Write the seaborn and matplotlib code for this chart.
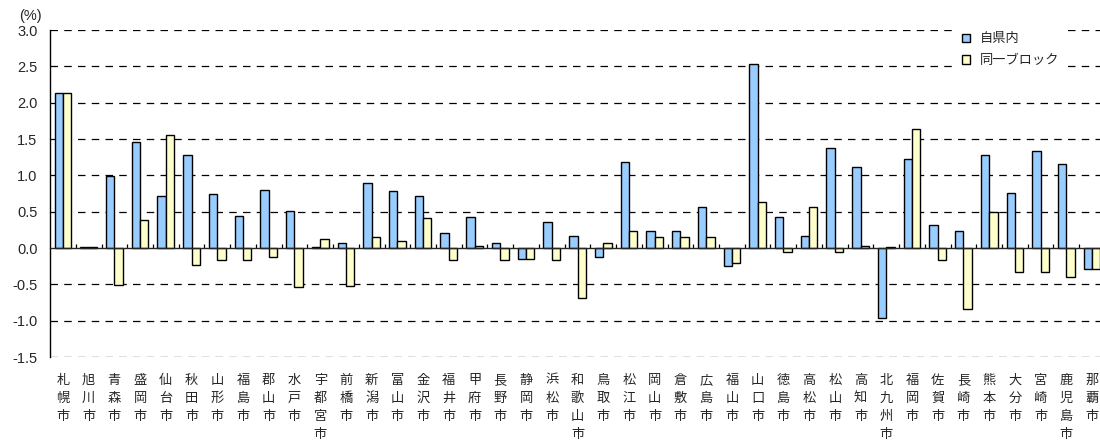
import matplotlib
matplotlib.use("Agg")
import matplotlib.pyplot as plt
import numpy as np
import pandas as pd
import seaborn as sns
from matplotlib.ticker import FixedLocator

# 都市名(縦書き表示用)
cities = ["札幌市", "旭川市", "青森市", "盛岡市", "仙台市", "秋田市", "山形市", "福島市",
          "郡山市", "水戸市", "宇都宮市", "前橋市", "新潟市", "富山市", "金沢市", "福井市",
          "甲府市", "長野市", "静岡市", "浜松市", "和歌山市", "鳥取市", "松江市", "岡山市",
          "倉敷市", "広島市", "福山市", "山口市", "徳島市", "高松市", "松山市", "高知市",
          "北九州市", "福岡市", "佐賀市", "長崎市", "熊本市", "大分市", "宮崎市", "鹿児島市",
          "那覇市"]

# 自県内 (%)
own_pref = [2.13, 0.02, 0.99, 1.46, 0.72, 1.28, 0.74, 0.44, 0.80, 0.51, 0.02, 0.07,
            0.89, 0.79, 0.72, 0.21, 0.43, 0.07, -0.15, 0.36, 0.17, -0.12, 1.18, 0.24,
            0.24, 0.56, -0.25, 2.53, 0.43, 0.17, 1.37, 1.12, -0.97, 1.22, 0.32, 0.24,
            1.28, 0.76, 1.34, 1.16, -0.29]

# 同一ブロック (%)
same_block = [2.13, 0.01, -0.51, 0.38, 1.56, -0.23, -0.16, -0.16, -0.12, -0.54, 0.13, -0.52,
              0.15, 0.09, 0.41, -0.17, 0.03, -0.17, -0.15, -0.17, -0.69, 0.07, 0.24, 0.15,
              0.15, 0.15, -0.21, 0.64, -0.06, 0.56, -0.06, 0.03, 0.01, 1.64, -0.17, -0.84,
              0.49, -0.33, -0.33, -0.40, -0.29]

series = ["自県内", "同一ブロック"]
colors = ["#99CCFF", "#FFFFCC"]
yticks = [-1.5, -1.0, -0.5, 0.0, 0.5, 1.0, 1.5, 2.0, 2.5, 3.0]

df = pd.DataFrame({
    "city": cities * 2,
    "value": own_pref + same_block,
    "series": [series[0]] * len(cities) + [series[1]] * len(cities),
})

sns.set_theme(style="white")
plt.rcParams["font.family"] = ["Liberation Sans", "Noto Sans CJK JP", "DejaVu Sans"]
plt.rcParams["axes.unicode_minus"] = False

fig = plt.figure(figsize=(11.0, 4.42), dpi=100)
ax = fig.add_axes([0.0455, 0.1923, 0.959, 0.7397])

sns.barplot(data=df, x="city", y="value", hue="series", palette=colors,
            hue_order=series, order=cities, width=0.65, edgecolor="black",
            linewidth=1.0, saturation=1, ax=ax, zorder=3, legend=True)

ax.set_xlim(-0.5, len(cities) - 0.5)
ax.set_ylim(yticks[0], yticks[-1])
ax.set_yticks(yticks)
ax.set_yticklabels([f"{v:.1f}" for v in yticks], fontsize=10.5,
                   family=["Liberation Sans", "DejaVu Sans"])
ax.tick_params(axis="y", length=0, pad=9)

# 破線の目盛線
for v in yticks:
    if v != 0.0:
        ax.axhline(v, color="black", linestyle=(0, (6, 5)), linewidth=0.9, zorder=1)

# 0 の位置の軸線と区切り目盛
ax.spines["bottom"].set_position(("data", 0))
ax.spines["bottom"].set_linewidth(1.0)
ax.spines["bottom"].set_zorder(4)
ax.xaxis.set_major_locator(FixedLocator(np.arange(len(cities))))
ax.xaxis.set_minor_locator(FixedLocator(np.arange(len(cities) - 1) + 0.5))
ax.tick_params(axis="x", which="major", length=0, labelbottom=False)
ax.tick_params(axis="x", which="minor", direction="in", length=3, width=0.9,
               color="black", bottom=True)
ax.spines["left"].set_color("black")
ax.spines["left"].set_linewidth(1.0)
ax.spines["top"].set_visible(False)
ax.spines["right"].set_visible(False)
ax.set_xlabel("")
ax.set_ylabel("")

# 都市名は縦書きで下端に配置
sec = ax.secondary_xaxis(0)
sec.set_xticks(np.arange(len(cities)))
sec.set_xticklabels(["\n".join(c) for c in cities], fontsize=9.5,
                    family=["Noto Sans CJK JP"], linespacing=1.5, va="top")
sec.tick_params(length=0, pad=12)
sec.spines["bottom"].set_visible(False)

fig.text(0.017, 0.947, "(%)", fontsize=10.5, ha="left", va="bottom",
         family=["Liberation Sans", "DejaVu Sans"])

leg = ax.legend(loc="upper right", bbox_to_anchor=(0.967, 1.025), frameon=True,
                facecolor="white", edgecolor="white", framealpha=1, fancybox=False,
                handlelength=0.6, handleheight=0.6, handletextpad=0.8,
                labelspacing=0.65, borderpad=0.3,
                prop={"family": ["Noto Sans CJK JP"], "size": 9.5})
for h in leg.legend_handles:
    h.set_edgecolor("black")
    h.set_linewidth(1.0)
leg.set_zorder(6)

fig.savefig("out.png", dpi=100)
